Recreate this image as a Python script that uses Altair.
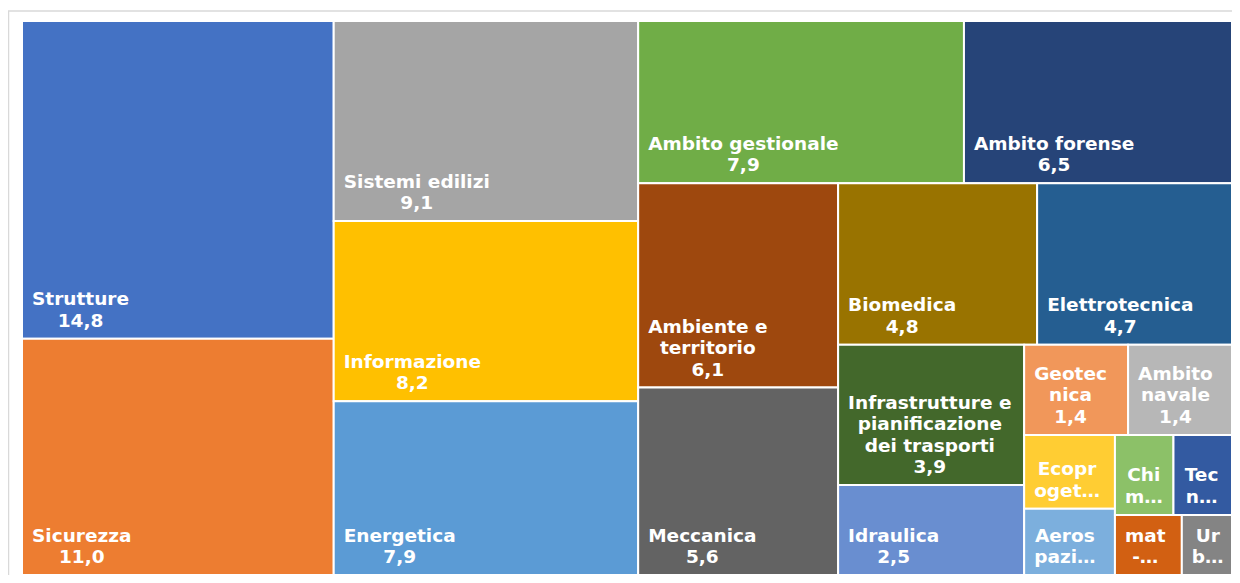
import altair as alt
import pandas as pd

# ---------------- data ----------------
names = [
    "Strutture", "Sicurezza", "Sistemi edilizi", "Informazione", "Energetica",
    "Ambito gestionale", "Ambito forense", "Ambiente e territorio", "Meccanica",
    "Biomedica", "Elettrotecnica", "Infrastrutture e pianificazione dei trasporti",
    "Idraulica", "Geotecnica", "Ambito navale", "Ecoprogettazione", "Aerospaziale",
    "Chimica", "Tecnologie", "mat-", "Urbanistica",
]
values = [14.8, 11.0, 9.1, 8.2, 7.9, 7.9, 6.5, 6.1, 5.6, 4.8, 4.7, 3.9, 2.5,
          1.4, 1.4, 1.0, 0.9, 0.7, 0.7, 0.6, 0.45]
# label text as it is wrapped / truncated in the picture
label_lines = [
    ["Strutture"], ["Sicurezza"], ["Sistemi edilizi"], ["Informazione"], ["Energetica"],
    ["Ambito gestionale"], ["Ambito forense"], ["Ambiente e", "territorio"], ["Meccanica"],
    ["Biomedica"], ["Elettrotecnica"], ["Infrastrutture e", "pianificazione", "dei trasporti"],
    ["Idraulica"], ["Geotec", "nica"], ["Ambito", "navale"], ["Ecopr", "oget…"], ["Aeros", "pazi…"],
    ["Chi", "m…"], ["Tec", "n…"], ["mat", "-…"], ["Ur", "b…"],
]
show_value = [True] * 15 + [False] * 6
colors = [
    "#4472C4", "#ED7D31", "#A5A5A5", "#FFC000", "#5B9BD5",
    "#70AD47", "#264478", "#9E480E", "#636363", "#997300",
    "#255E91", "#43682B", "#698ED0", "#F1975A", "#B7B7B7",
    "#FFCD33", "#7CAFDD", "#8CC168", "#335AA1", "#D26012", "#848484",
]

# ---------------- layout parameters ----------------
W_PX, H_PX = 1210, 554          # plot area in pixels
ASPECT = 1.7                    # aspect of the layout space used by the squarify pass
FONT_SIZE, LINE_H = 18.5, 21.5
PAD_X, PAD_BOTTOM = 10, 12

# ---------------- squarified treemap layout ----------------
def worst(row, length):
    s = sum(row)
    return max(max(length * length * a / (s * s), s * s / (length * length * a)) for a in row)

def squarify(areas, x, y, w, h):
    rects = []
    i, n = 0, len(areas)
    while i < n:
        length = min(w, h)
        row = [areas[i]]
        j = i + 1
        while j < n and worst(row + [areas[j]], length) <= worst(row, length):
            row.append(areas[j])
            j += 1
        s = sum(row)
        if w >= h:
            t = s / h
            yy = y
            for a in row:
                hh = a / t
                rects.append((x, yy, x + t, yy + hh))
                yy += hh
            x += t
            w -= t
        else:
            t = s / w
            xx = x
            for a in row:
                ww = a / t
                rects.append((xx, y, xx + ww, y + t))
                xx += ww
            y += t
            h -= t
        i = j
    return rects

total = sum(values)
order = sorted(range(len(values)), key=lambda k: -values[k])
areas = [values[k] * ASPECT / total for k in order]
rects_sorted = squarify(areas, 0.0, 0.0, ASPECT, 1.0)
rects = [None] * len(values)
for pos, k in enumerate(order):
    rects[k] = rects_sorted[pos]

# rough advance widths of DejaVu Sans Bold (em units), to centre lines in a block
CW = {" ": .348, ",": .380, ".": .380, "-": .415, "…": 1.0}
CW.update({d: .696 for d in "0123456789"})
CW.update(dict(zip("ABCDEFGHIJKLMNOPQRSTUVWXYZ",
                   [.774, .762, .734, .830, .683, .683, .821, .837, .372, .372, .775, .637, .995,
                    .837, .850, .733, .850, .770, .720, .682, .812, .774, 1.103, .771, .724, .725])))
CW.update(dict(zip("abcdefghijklmnopqrstuvwxyz",
                   [.675, .716, .593, .716, .678, .435, .716, .712, .343, .343, .665, .343, 1.042,
                    .712, .687, .716, .716, .493, .595, .478, .712, .652, .924, .645, .652, .582])))

def text_w(s):
    return sum(CW.get(c, .65) for c in s) * FONT_SIZE

px_x = W_PX / ASPECT
px_y = H_PX / 1.0

rows = []
for k, name in enumerate(names):
    x0, y0, x1, y1 = rects[k]
    lines = list(label_lines[k])
    if show_value[k]:
        lines.append(f"{values[k]:.1f}".replace(".", ","))
    bw = max(text_w(s) for s in lines)
    rows.append({
        "name": name,
        "value": values[k],
        "x0": x0, "x1": x1, "y0": y0, "y1": y1,
        "label": "\n".join(lines),
        "tx": x0 + (PAD_X + bw / 2) / px_x,
        "ty": y1 - (PAD_BOTTOM + (len(lines) - 1) * LINE_H) / px_y,
    })
df = pd.DataFrame(rows)

xs = alt.Scale(domain=[0, ASPECT], nice=False, zero=False)
ys = alt.Scale(domain=[0, 1], nice=False, zero=False, reverse=True)

base = alt.Chart(df)

cells = base.mark_rect(stroke="white", strokeWidth=2).encode(
    x=alt.X("x0:Q", scale=xs, axis=None),
    x2="x1:Q",
    y=alt.Y("y0:Q", scale=ys, axis=None),
    y2="y1:Q",
    color=alt.Color("name:N", scale=alt.Scale(domain=names, range=colors), legend=None),
)

labels = base.mark_text(
    align="center", baseline="alphabetic", font="DejaVu Sans", fontWeight="bold",
    fontSize=FONT_SIZE, lineHeight=LINE_H, lineBreak="\n", color="white",
).encode(
    x=alt.X("tx:Q", scale=xs, axis=None),
    y=alt.Y("ty:Q", scale=ys, axis=None),
    text="label:N",
)

frame = alt.Chart(alt.Data(values=[{"f": 1}])).mark_rect(
    filled=False, stroke="#d9d9d9", strokeWidth=1.5
).encode(
    x=alt.value(-13.5), x2=alt.value(W_PX + 20), y=alt.value(-10), y2=alt.value(H_PX + 30)
)

chart = alt.layer(frame, cells, labels).properties(
    width=W_PX, height=H_PX,
    padding={"left": 14, "top": 13, "right": 0, "bottom": 0},
    autosize=alt.AutoSizeParams(type="none"),
).configure_view(strokeWidth=0)

chart.save("out.html", embed_options={"renderer": "svg", "actions": False})
